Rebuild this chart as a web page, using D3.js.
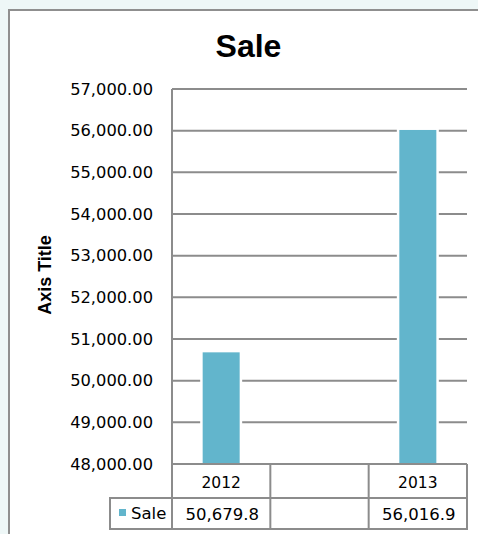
<!DOCTYPE html>
<html>
<head>
<meta charset="utf-8">
<script src="https://cdn.jsdelivr.net/npm/d3@7"></script>
<style>
  html, body { margin: 0; padding: 0; background: #eef7f7; }
  svg { display: block; }
</style>
</head>
<body>
<svg id="chart" width="478" height="534"></svg>
<script>
// Sale by year, with a blank middle column in the category axis
const categories = ["2012", "", "2013"];
const saleValues = [50679.8, null, 56016.9];
const seriesName = "Sale";
const yTicks = [48000, 49000, 50000, 51000, 52000, 53000, 54000, 55000, 56000, 57000];
const tableLabels = ["50,679.8", "", "56,016.9"];

const svg = d3.select("#chart");
const W = 478, H = 534;
const plot = { left: 172, right: 467, top: 89, bottom: 464 };
const gridColor = "#8c8c8c";
const barColor = "#62b5cc";
const tickFont = "DejaVu Sans, Verdana, sans-serif";

// chart panel
svg.append("rect")
  .attr("x", 9).attr("y", 10)
  .attr("width", W).attr("height", H)
  .attr("fill", "#ffffff")
  .attr("stroke", "#8f8f8f").attr("stroke-width", 2);

// title
svg.append("text")
  .attr("x", 248.5).attr("y", 57)
  .attr("text-anchor", "middle")
  .attr("font-family", "Liberation Sans, Arial, sans-serif")
  .attr("font-weight", "bold").attr("font-size", 32)
  .attr("fill", "#000").text("Sale");

const x = d3.scaleBand().domain(d3.range(categories.length))
  .range([plot.left, plot.right]).paddingInner(0).paddingOuter(0);
const y = d3.scaleLinear().domain([48000, 57000]).range([plot.bottom, plot.top]);

// gridlines
svg.append("g").selectAll("line").data(yTicks).join("line")
  .attr("x1", plot.left).attr("x2", plot.right)
  .attr("y1", d => y(d)).attr("y2", d => y(d))
  .attr("stroke", gridColor).attr("stroke-width", 2);

// y axis tick labels
const yAxis = d3.axisLeft(y).tickValues(yTicks)
  .tickFormat(d3.format(",.2f")).tickSize(0).tickPadding(19);
const gy = svg.append("g").attr("transform", `translate(${plot.left},0)`).call(yAxis);
gy.select(".domain").remove();
gy.selectAll("text")
  .attr("font-family", tickFont).attr("font-size", 16.3).attr("fill", "#000");

// bars, with a white outline that opens a gap in the gridlines
const barW = 37;
const barData = saleValues.map((v, i) => ({ v, i })).filter(d => d.v != null);
svg.append("g").selectAll("rect")
  .data(barData)
  .join("rect")
  .attr("x", d => x(d.i) + x.bandwidth() / 2 - barW / 2)
  .attr("y", d => y(d.v))
  .attr("width", barW)
  .attr("height", d => y(48000) - y(d.v))
  .attr("fill", barColor)
  .attr("stroke", "#ffffff").attr("stroke-width", 5);

svg.append("g").selectAll("rect")
  .data(barData)
  .join("rect")
  .attr("x", d => x(d.i) + x.bandwidth() / 2 - barW / 2)
  .attr("y", d => y(d.v))
  .attr("width", barW)
  .attr("height", d => y(48000) - y(d.v) - 1)
  .attr("fill", barColor);

// data table below the plot
const row1 = { top: plot.bottom, bottom: 498 };
const row2 = { top: 498, bottom: 529 };
const legendLeft = 110;
const tbl = svg.append("g").attr("stroke", gridColor).attr("stroke-width", 2).attr("fill", "none");

// baseline / table top rule drawn over the bar outlines
tbl.append("line").attr("x1", plot.left).attr("x2", plot.right)
  .attr("y1", row1.top).attr("y2", row1.top);
// vertical axis line through plot and table
tbl.append("line").attr("x1", plot.left).attr("x2", plot.left)
  .attr("y1", plot.top).attr("y2", row2.bottom);
// column separators
categories.forEach((c, i) => {
  const xr = x(i) + x.bandwidth();
  tbl.append("line").attr("x1", xr).attr("x2", xr)
    .attr("y1", row1.top).attr("y2", row2.bottom);
});
// horizontal rules
tbl.append("line").attr("x1", legendLeft - 1).attr("x2", plot.right + 1)
  .attr("y1", row2.top).attr("y2", row2.top);
tbl.append("line").attr("x1", legendLeft - 1).attr("x2", plot.right + 1)
  .attr("y1", row2.bottom).attr("y2", row2.bottom);
tbl.append("line").attr("x1", legendLeft).attr("x2", legendLeft)
  .attr("y1", row2.top).attr("y2", row2.bottom);

// category labels
svg.append("g").selectAll("text").data(categories).join("text")
  .attr("x", (d, i) => x(i) + x.bandwidth() / 2)
  .attr("y", 488)
  .attr("text-anchor", "middle")
  .attr("font-family", tickFont).attr("font-size", 15.5)
  .text(d => d);

// value labels
svg.append("g").selectAll("text").data(tableLabels).join("text")
  .attr("x", (d, i) => x(i) + x.bandwidth() / 2 + 1)
  .attr("y", 520)
  .attr("text-anchor", "middle")
  .attr("font-family", tickFont).attr("font-size", 16.5)
  .text(d => d);

// legend key in the table
svg.append("rect")
  .attr("x", 119).attr("y", 509).attr("width", 7).attr("height", 7)
  .attr("fill", barColor);
svg.append("text")
  .attr("x", 131).attr("y", 519)
  .attr("font-family", tickFont).attr("font-size", 16.5)
  .text(seriesName);

// y axis title
svg.append("text")
  .attr("transform", "translate(51,275) rotate(-90)")
  .attr("text-anchor", "middle")
  .attr("font-family", "Liberation Sans, Arial, sans-serif")
  .attr("font-weight", "bold").attr("font-size", 18)
  .text("Axis Title");
</script>
</body>
</html>
